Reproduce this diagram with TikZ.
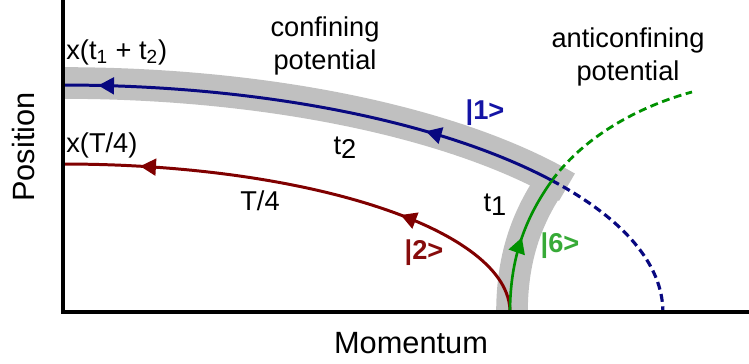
\documentclass[tikz,border=0pt]{standalone}
\usepackage{fontspec}
\setmainfont{Liberation Sans}
\usetikzlibrary{arrows.meta,decorations.markings}
\definecolor{bandgray}{RGB}{192,192,192}
\definecolor{navyline}{RGB}{8,8,128}
\definecolor{navyket}{RGB}{20,20,165}
\definecolor{redline}{RGB}{128,0,0}
\definecolor{redket}{RGB}{135,12,12}
\definecolor{greenline}{RGB}{0,145,0}
\definecolor{greenket}{RGB}{55,170,55}
\newcommand{\lblsize}{\fontsize{15.5}{19}\selectfont}
\newcommand{\axsize}{\fontsize{17.5}{21}\selectfont}

\begin{document}
\begin{tikzpicture}[x=0.02cm,y=0.02cm,font=\lblsize,
  band/.style={bandgray,line width=18pt},
  orbit/.style={line width=1.7pt},
  dashorbit/.style={line width=1.8pt,dash pattern=on 4.5pt off 2.6pt},
  ket/.style={font=\lblsize\bfseries},
  arrowat/.style={postaction={decorate,decoration={markings,
    mark=at position #1 with {\arrow{Triangle[length=9pt,width=9.5pt]}}}}}]
\useasboundingbox (0,0) rectangle (749,364);
\coordinate (O) at (63,52);
\coordinate (B) at (510,52);
\coordinate (J) at ([shift={(O)}]35.4:12cm and 4.54cm);
% guide band
\draw[band] (512,52) .. controls (512,110) and (529,150) .. (J);
\draw[band] (63,281) arc[start angle=90,end angle=33,x radius=12.02cm,y radius=4.58cm];
% orbits
\draw[orbit,redline,arrowat=0.31,arrowat=0.845] (B) arc[start angle=0,end angle=90,x radius=8.94cm,y radius=2.96cm];
\draw[dashorbit,navyline] (J) arc[start angle=35.4,end angle=0,x radius=12cm,y radius=4.54cm];
\draw[dashorbit,greenline,line width=1.6pt] (J) .. controls (580,222) and (630,255) .. (692,272);
\draw[orbit,navyline,arrowat=0.27,arrowat=0.93] (J) arc[start angle=35.4,end angle=90,x radius=12cm,y radius=4.54cm];
\draw[orbit,greenline,line width=1.5pt,arrowat=0.54] (B) .. controls (510,110) and (528,150) .. (J);
% axes
\draw[line width=2pt] (63,364) -- (O) -- (749,52);
\node[rotate=90,font=\axsize] (posaxis) at (24,217) {Position};
\node[font=\axsize] (momaxis) at (411,21) {Momentum};
% labels
\node[anchor=west,inner sep=0pt] (xtt) at (66,312) {x(t\textsubscript{1} + t\textsubscript{2})};
\node[anchor=west,inner sep=0pt] (xtq) at (66,219) {x(T/4)};
\node[align=center] (conf) at (325,318) {confining\\potential};
\node[align=center] (anticonf) at (628,307) {anticonfining\\potential};
\node (ttwo) at (345,216) {t\raisebox{-0.3ex}{2}};
\node (tone) at (495,159) {t\raisebox{-0.3ex}{1}};
\node (tquarter) at (260,163) {T/4};
\node[ket,navyket] (ketone) at (485,251) {|1>};
\node[ket,redket] (kettwo) at (424,111) {|2>};
\node[ket,greenket] (ketsix) at (560,118) {|6>};
\end{tikzpicture}
\end{document}
